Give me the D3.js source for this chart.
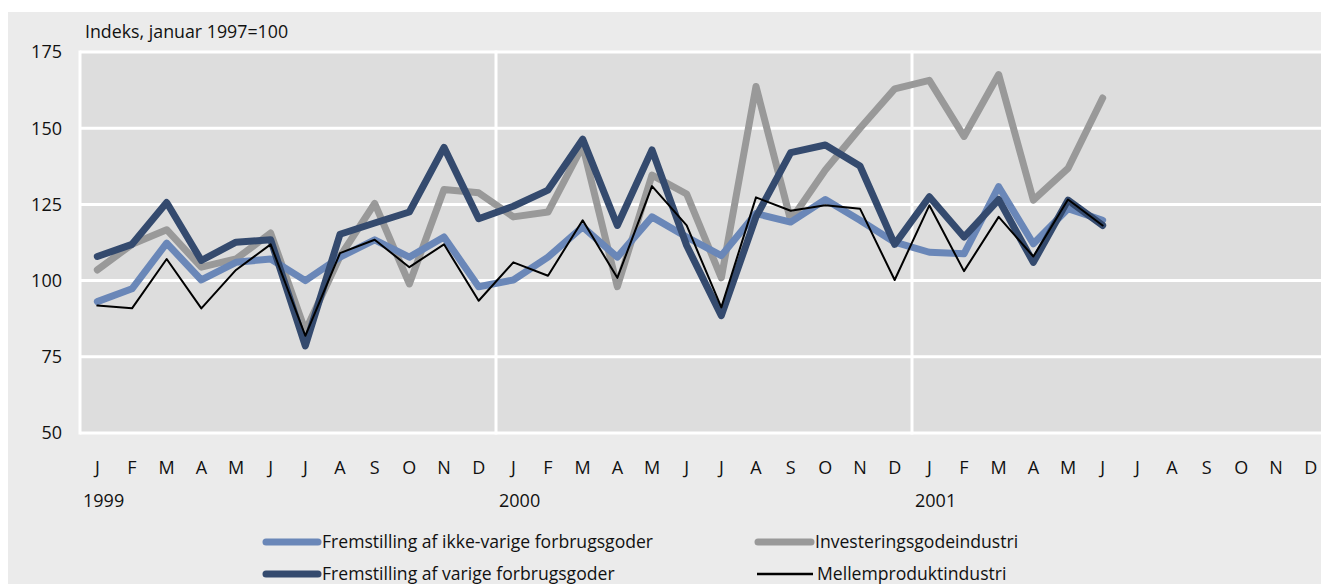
<!DOCTYPE html>
<html><head><meta charset="utf-8">
<script src="https://cdn.jsdelivr.net/npm/d3@7/dist/d3.min.js"></script>
<style>
html,body{margin:0;padding:0;background:#fff;}
svg{display:block;}
text{font-family:"Open Sans",sans-serif;fill:#111;}
</style></head><body>
<svg id="c" width="1321" height="584"></svg>
<script>
const monthLabels = ["J","F","M","A","M","J","J","A","S","O","N","D"];
const years = ["1999","2000","2001"];
const yTicks = [50,75,100,125,150,175];
const yTitle = "Indeks, januar 1997=100";
const seriesNames = ["Fremstilling af ikke-varige forbrugsgoder","Fremstilling af varige forbrugsgoder","Investeringsgodeindustri","Mellemproduktindustri"];

const ikkeVarige = [93.1,97.3,112.3,100.2,106,107.1,100,107.7,113.4,107.7,114.3,98,
  100.2,107.7,117.6,107.7,120.9,114.3,108.2,122,119.2,126.6,119.8,112.6,
  109.3,108.8,130.8,112.1,123.6,119.8];
const varige = [107.9,111.9,125.6,106.6,112.6,113.4,78.6,115.2,118.9,122.5,143.7,120.3,
  124.4,129.7,146.4,118.1,142.9,111.5,88.5,120.9,142,144.5,137.6,111.9,
  127.5,114.3,126.6,106,126.4,118.1];
const investering = [103.5,111.9,116.7,104.4,107.1,115.6,83.5,107.9,125.3,98.9,129.9,128.8,
  120.9,122.5,144.2,98,134.6,128.4,100.9,163.7,119.8,136.3,150,162.9,
  165.7,147.3,167.6,126.4,136.8,159.9];
const mellem = [91.8,90.9,107.1,90.9,103.5,111.9,81.9,109,113.4,104.4,111.9,93.4,
  106,101.6,119.8,100.9,131,118.1,91.2,127.3,122.9,124.7,123.6,100.2,
  124.7,103.1,120.9,107.9,126.6,118.1];

const svg = d3.select("#c");
const L = 80, T = 52, B = 433, mw = 416/12;
const x = d3.scaleLinear().domain([0,36]).range([L, L+36*mw]);
const y = d3.scaleLinear().domain([50,175]).range([B,T]);

svg.append("rect").attr("x",8).attr("y",12).attr("width",1313).attr("height",572).attr("fill","#ebebeb");
svg.append("rect").attr("x",L).attr("y",T).attr("width",1321-L).attr("height",B-T).attr("fill","#dddddd");

svg.append("g").selectAll("line").data(yTicks).join("line")
  .attr("x1",L).attr("x2",1321).attr("y1",d=>y(d)).attr("y2",d=>y(d))
  .attr("stroke","#fff").attr("stroke-width",3);
svg.append("g").selectAll("line").data([0,12,24]).join("line")
  .attr("x1",d=>x(d)).attr("x2",d=>x(d)).attr("y1",T-1.5).attr("y2",B+1.5)
  .attr("stroke","#fff").attr("stroke-width",3);

svg.append("g").selectAll("text").data(yTicks).join("text")
  .attr("x",62).attr("y",d=>y(d)).attr("dy","0.35em").attr("text-anchor","end")
  .attr("font-size",18).text(d=>d);
svg.append("text").attr("x",85).attr("y",38).attr("font-size",17.8).text(yTitle);

const months = d3.range(36);
svg.append("g").selectAll("text").data(months).join("text")
  .attr("x",d=>x(d+0.5)).attr("y",474).attr("text-anchor","middle")
  .attr("font-size",18).text(d=>monthLabels[d%12]);
svg.append("g").selectAll("text").data(years).join("text")
  .attr("x",(d,i)=>x(i*12)+3).attr("y",507).attr("font-size",18).text(d=>d);

const line = d3.line().x((d,i)=>x(i+0.5)).y(d=>y(d)).curve(d3.curveLinear);
const styles = [
  {data:investering,color:"#999999",w:7},
  {data:ikkeVarige,color:"#6a87b8",w:7},
  {data:varige,color:"#344a6e",w:7},
  {data:mellem,color:"#000000",w:2}
];
styles.forEach(s=>{
  svg.append("path").datum(s.data).attr("d",line).attr("fill","none")
    .attr("stroke",s.color).attr("stroke-width",s.w).attr("stroke-linejoin","round").attr("stroke-linecap","round");
});

const leg = [
  {name:seriesNames[0],color:"#6a87b8",w:7,x1:266,x2:318,ty:542},
  {name:seriesNames[2],color:"#999999",w:7,x1:758,x2:811,ty:542},
  {name:seriesNames[1],color:"#344a6e",w:7,x1:266,x2:318,ty:574},
  {name:seriesNames[3],color:"#000000",w:2.5,x1:757,x2:813,ty:574}
];
leg.forEach(l=>{
  svg.append("line").attr("x1",l.x1).attr("x2",l.x2).attr("y1",l.ty).attr("y2",l.ty)
    .attr("stroke",l.color).attr("stroke-width",l.w).attr("stroke-linecap",l.w>3?"round":"butt");
  svg.append("text").attr("x",l.x2+4).attr("y",l.ty).attr("dy","0.35em").attr("font-size",17.6).text(l.name);
});
</script>
</body></html>
